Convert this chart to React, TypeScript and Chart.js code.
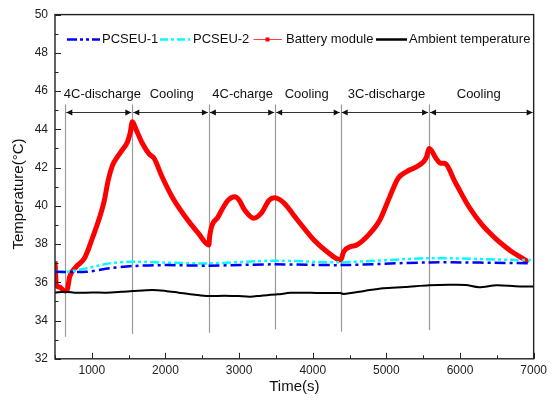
import React, { useEffect, useRef } from "react";
import { Chart, registerables } from "chart.js";
Chart.register(...registerables);

const batteryTime = [500, 520, 560, 633, 665, 700, 790, 902, 1013, 1103, 1171, 1223, 1282, 1345, 1413, 1484, 1520, 1551, 1600, 1686, 1780, 1843, 1954, 2089, 2269, 2448, 2590, 2600, 2716, 2851, 2941, 3000, 3075, 3200, 3298, 3411, 3480, 3540, 3613, 3792, 4016, 4195, 4380, 4420, 4508, 4598, 4777, 4911, 5046, 5159, 5270, 5449, 5539, 5583, 5673, 5740, 5785, 5942, 6121, 6301, 6480, 6614, 6704, 6850, 6930];
const batteryTemp = [37.1, 35.85, 35.75, 35.55, 35.6, 36.3, 36.82, 37.27, 38.37, 39.36, 40.3, 41.35, 42.13, 42.55, 42.92, 43.34, 43.8, 44.4, 44.0, 43.27, 42.7, 42.5, 41.52, 40.48, 39.43, 38.56, 37.95, 38.4, 39.43, 40.3, 40.48, 40.3, 39.78, 39.35, 39.6, 40.3, 40.42, 40.35, 40.13, 39.26, 38.21, 37.6, 37.17, 37.6, 37.86, 37.95, 38.56, 39.26, 40.48, 41.44, 41.78, 42.13, 42.49, 43.0, 42.49, 42.22, 42.22, 41.18, 39.95, 39.0, 38.3, 37.86, 37.6, 37.25, 37.05];

const pcseu1Time = [500, 925, 1238, 1551, 2000, 2582, 3478, 4374, 5583, 6950];
const pcseu1Temp = [36.55, 36.55, 36.73, 36.85, 36.9, 36.87, 36.94, 36.9, 37.04, 37.0];

const pcseu2Time = [500, 656, 925, 1238, 1551, 2000, 2582, 3478, 4374, 5583, 6749, 6970];
const pcseu2Temp = [36.55, 36.55, 36.73, 36.99, 37.08, 37.03, 36.99, 37.13, 37.05, 37.26, 37.17, 37.17];

const ambientTime = [500, 633, 800, 1000, 1193, 1400, 1551, 1820, 2000, 2179, 2400, 2582, 2800, 2985, 3150, 3300, 3523, 3700, 3836, 4100, 4374, 4420, 4700, 4957, 5250, 5583, 5850, 6077, 6256, 6500, 6749, 7000];
const ambientTemp = [35.46, 35.51, 35.45, 35.47, 35.46, 35.5, 35.54, 35.6, 35.55, 35.46, 35.35, 35.28, 35.3, 35.28, 35.25, 35.3, 35.37, 35.45, 35.46, 35.44, 35.44, 35.39, 35.55, 35.69, 35.75, 35.84, 35.87, 35.86, 35.74, 35.85, 35.8, 35.78];

const xTickValues = [1000, 2000, 3000, 4000, 5000, 6000, 7000];
const yTickValues = [32, 34, 36, 38, 40, 42, 44, 46, 48, 50];

const phaseBounds = [640, 1550, 2590, 3490, 4380, 5580, 7000];
const phaseLineBottom = [33.15, 33.3, 33.36, 33.54, 33.42, 33.5];
const phaseLineTop = 45.3;
const arrowLevel = 44.92;
const phaseLabels = ["4C-discharge", "Cooling", "4C-charge", "Cooling", "3C-discharge", "Cooling"];
const phaseLabelX = [1144, 2085, 3048, 3919, 5001, 6255];
const phaseLabelLevel = 45.85;

const seriesNames = ["PCSEU-1", "PCSEU-2", "Battery module", "Ambient temperature"];

const FONT = "'Liberation Sans', Arial, Helvetica, sans-serif";

function zip(t: number[], v: number[]) {
  return t.map((x, i) => ({ x, y: v[i] }));
}

const overlayPlugin = {
  id: "overlay",
  beforeDatasetsDraw(chart: any) {
    const { ctx, scales } = chart;
    const x = scales.x, y = scales.y;
    ctx.save();
    ctx.strokeStyle = "#9a9a9a";
    ctx.lineWidth = 1.2;
    for (let i = 0; i < phaseBounds.length - 1; i++) {
      const px = Math.round(x.getPixelForValue(phaseBounds[i])) + 0.5;
      ctx.beginPath();
      ctx.moveTo(px, y.getPixelForValue(phaseLineTop));
      ctx.lineTo(px, y.getPixelForValue(phaseLineBottom[i]));
      ctx.stroke();
    }
    const ay = Math.round(y.getPixelForValue(arrowLevel)) + 0.5;
    ctx.strokeStyle = "#333";
    ctx.fillStyle = "#111";
    ctx.lineWidth = 1;
    for (let i = 0; i < phaseBounds.length - 1; i++) {
      const a = x.getPixelForValue(phaseBounds[i]) + 1;
      const b = x.getPixelForValue(phaseBounds[i + 1]) - 1;
      ctx.beginPath();
      ctx.moveTo(a, ay);
      ctx.lineTo(b, ay);
      ctx.stroke();
      ctx.beginPath();
      ctx.moveTo(a, ay);
      ctx.lineTo(a + 6, ay - 3);
      ctx.lineTo(a + 6, ay + 3);
      ctx.closePath();
      ctx.fill();
      ctx.beginPath();
      ctx.moveTo(b, ay);
      ctx.lineTo(b - 6, ay - 3);
      ctx.lineTo(b - 6, ay + 3);
      ctx.closePath();
      ctx.fill();
    }
    ctx.font = `13px ${FONT}`;
    ctx.fillStyle = "#111";
    ctx.textAlign = "center";
    ctx.textBaseline = "middle";
    const ly = y.getPixelForValue(phaseLabelLevel);
    phaseLabels.forEach((s, i) => {
      ctx.fillText(s, x.getPixelForValue(phaseLabelX[i]), ly);
    });
    ctx.restore();
  },
  afterDraw(chart: any) {
    const { ctx, chartArea: ca, scales } = chart;
    const x = scales.x, y = scales.y;
    ctx.save();
    ctx.strokeStyle = "#222";
    ctx.lineWidth = 1.4;
    ctx.strokeRect(ca.left, ca.top, ca.right - ca.left, ca.bottom - ca.top);
    ctx.lineWidth = 1;
    ctx.beginPath();
    for (let v = 500; v <= 7000; v += 500) {
      const px = Math.round(x.getPixelForValue(v)) + 0.5;
      const len = v % 1000 === 0 ? 6 : 3.5;
      ctx.moveTo(px, ca.bottom);
      ctx.lineTo(px, ca.bottom - len);
    }
    for (let v = 32; v <= 50; v += 1) {
      const py = Math.round(y.getPixelForValue(v)) + 0.5;
      const len = v % 2 === 0 ? 6 : 3.5;
      ctx.moveTo(ca.left, py);
      ctx.lineTo(ca.left + len, py);
    }
    ctx.stroke();

    ctx.fillStyle = "#111";
    ctx.font = `15px ${FONT}`;
    ctx.textAlign = "center";
    ctx.textBaseline = "middle";
    ctx.fillText("Time(s)", (ca.left + ca.right) / 2, 387);
    ctx.save();
    ctx.translate(18.5, 194);
    ctx.rotate(-Math.PI / 2);
    ctx.fillText("Temperature(\u00B0C)", 0, 0);
    ctx.restore();

    const ly = 39.5;
    ctx.font = `13px ${FONT}`;
    ctx.textAlign = "left";
    ctx.textBaseline = "middle";
    const items = [
      { x0: 67, x1: 100, tx: 102, color: "#0000ff", w: 2.5, dash: [10, 3, 3, 3, 3, 3] },
      { x0: 160, x1: 190, tx: 193, color: "#00ffff", w: 2.5, dash: [8, 3, 3, 3] },
      { x0: 253.5, x1: 282, tx: 286, color: "#ff4040", w: 1, dash: [] as number[] },
      { x0: 376, x1: 407, tx: 409, color: "#000000", w: 2.5, dash: [] as number[] },
    ];
    items.forEach((it, i) => {
      ctx.strokeStyle = it.color;
      ctx.lineWidth = it.w;
      ctx.setLineDash(it.dash);
      ctx.beginPath();
      ctx.moveTo(it.x0, ly);
      ctx.lineTo(it.x1, ly);
      ctx.stroke();
      ctx.setLineDash([]);
      if (i === 2) {
        ctx.fillStyle = "#ff0000";
        ctx.fillRect(265.5, ly - 2, 4, 4);
      }
      ctx.fillStyle = "#111";
      ctx.fillText(seriesNames[i], it.tx, ly);
    });
    ctx.restore();
  },
};

export default function App() {
  const ref = useRef<HTMLCanvasElement | null>(null);
  useEffect(() => {
    document.body.style.margin = "0";
    const canvas = ref.current;
    if (!canvas) return;
    const chart = new Chart(canvas, {
      type: "line",
      data: {
        datasets: [
          {
            label: seriesNames[0],
            data: zip(pcseu1Time, pcseu1Temp),
            borderColor: "#0000ff",
            borderWidth: 2.5,
            borderDash: [11, 4, 3, 4],
            pointRadius: 0,
            tension: 0.3,
          },
          {
            label: seriesNames[1],
            data: zip(pcseu2Time, pcseu2Temp),
            borderColor: "#00ffff",
            borderWidth: 2.5,
            borderDash: [9, 3, 3, 3, 3, 3],
            pointRadius: 0,
            tension: 0.3,
          },
          {
            label: seriesNames[3],
            data: zip(ambientTime, ambientTemp),
            borderColor: "#000000",
            borderWidth: 2,
            pointRadius: 0,
            tension: 0.3,
          },
          {
            label: seriesNames[2],
            data: zip(batteryTime, batteryTemp),
            borderColor: "#ff0000",
            borderWidth: 5,
            pointRadius: 0,
            cubicInterpolationMode: "monotone",
          },
        ],
      },
      options: {
        animation: false,
        responsive: false,
        devicePixelRatio: 1,
        layout: { padding: { top: 14.6, right: 13, left: 0, bottom: 0 } },
        plugins: { legend: { display: false }, tooltip: { enabled: false } },
        scales: {
          x: {
            type: "linear",
            min: 500,
            max: 7000,
            grid: { display: false, drawTicks: false },
            border: { display: false },
            afterBuildTicks: (s: any) => {
              s.ticks = xTickValues.map((v) => ({ value: v }));
            },
            afterFit: (s: any) => {
              s.height = 406 - 358.8;
            },
            ticks: {
              padding: 5,
              color: "#222",
              font: { family: FONT, size: 12 },
              maxRotation: 0,
              autoSkip: false,
              callback: (v: any) => String(v),
            },
          },
          y: {
            type: "linear",
            min: 32,
            max: 50,
            grid: { display: false, drawTicks: false },
            border: { display: false },
            afterBuildTicks: (s: any) => {
              s.ticks = yTickValues.map((v) => ({ value: v }));
            },
            afterFit: (s: any) => {
              s.width = 55;
            },
            ticks: {
              padding: 7,
              color: "#222",
              font: { family: FONT, size: 12 },
              autoSkip: false,
              callback: (v: any) => String(v),
            },
          },
        },
      },
      plugins: [overlayPlugin],
    });
    return () => chart.destroy();
  }, []);
  return <canvas ref={ref} width={552} height={406} style={{ display: "block" }} />;
}
